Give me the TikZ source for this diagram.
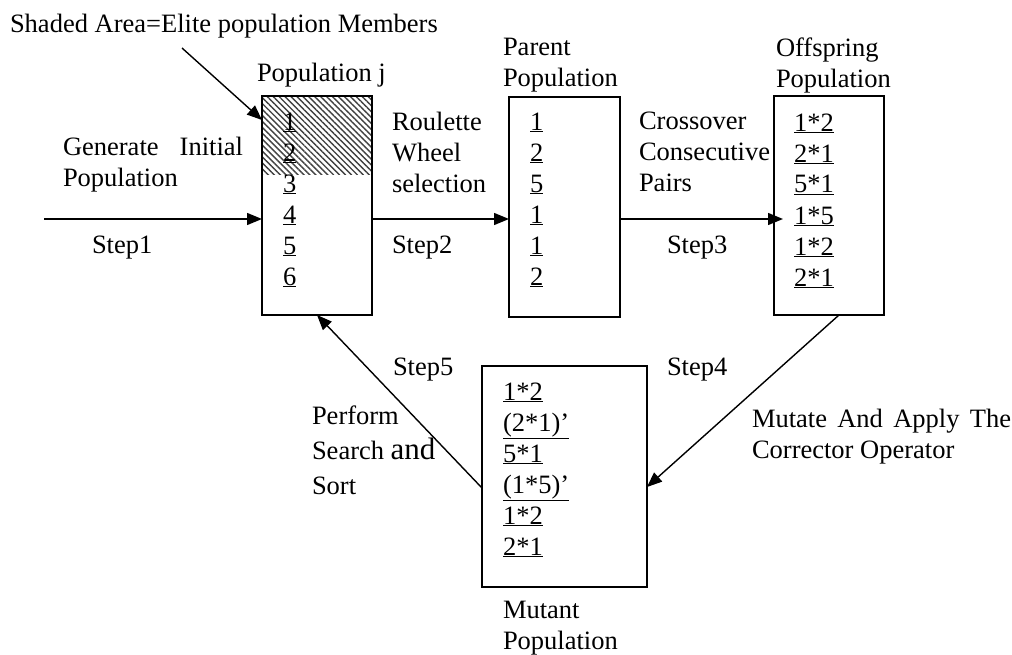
\documentclass[tikz,border=0pt]{standalone}
\usepackage{fontspec}
\setmainfont{Liberation Serif}
\usetikzlibrary{arrows.meta,patterns.meta,calc}
\begin{document}
\begin{tikzpicture}[x=1pt,y=-1pt,
  every node/.style={inner sep=0pt,outer sep=0pt,font=\fontsize{26.5}{31}\selectfont},
  lbl/.style={anchor=base west,align=left},
  popbox/.style={draw,line width=2pt,rectangle,inner sep=0pt},
  arr/.style={line width=1.4pt,-{Triangle[length=15pt,width=12pt]}}]
\useasboundingbox (0,0) rectangle (1012,655);
% shaded elite area
\fill[pattern={Lines[angle=-45,distance=4.2pt,line width=1.4pt]},pattern color=black!75]
  (262,96) rectangle (372,175);
% boxes
\node[popbox,minimum width=110pt,minimum height=219pt] (popj) at (317,205.5) {};
\node[popbox,minimum width=111pt,minimum height=220pt] (par) at (564.5,207) {};
\node[popbox,minimum width=110pt,minimum height=219pt] (off) at (829,205.5) {};
\node[popbox,minimum width=165pt,minimum height=221pt] (mut) at (564.5,476.5) {};
% box contents (anchored at the baseline of their last line)
\node[lbl] (popjl) at (283,285) {\underline{1}\\\underline{2}\\\underline{3}\\\underline{4}\\\underline{5}\\\underline{6}};
\node[lbl] (parl) at (530,285) {\underline{1}\\\underline{2}\\\underline{5}\\\underline{1}\\\underline{1}\\\underline{2}};
\node[lbl] (offl) at (794,286) {\underline{1*2}\\\underline{2*1}\\\underline{5*1}\\\underline{1*5}\\\underline{1*2}\\\underline{2*1}};
\node[lbl] (mutl) at (503,555) {\underline{1*2}\\\underline{(2*1)'}\\\underline{5*1}\\\underline{(1*5)'}\\\underline{1*2}\\\underline{2*1}};
% labels
\node[lbl] (shaded) at (10,33) {Shaded Area=Elite population Members};
\node[lbl] (popjt) at (257,82) {Population j};
\node[lbl] (part) at (503,87) {Parent\\Population};
\node[lbl] (offt) at (776,88) {Offspring\\Population};
\node[lbl] (mutt) at (503,649) {Mutant\\Population};
\node[lbl] (gen) at (63,187) {\hbox to 180pt{Generate\hfill Initial}\\Population};
\node[lbl] (s1) at (92,253) {Step1};
\node[lbl] (rw) at (392,193) {Roulette\\Wheel\\selection};
\node[lbl] (s2) at (392,253) {Step2};
\node[lbl] (cc) at (639,192) {Crossover\\Consecutive\\Pairs};
\node[lbl] (s3) at (667,254) {Step3};
\node[lbl] (s5) at (393,375) {Step5};
\node[lbl] (s4) at (667,375) {Step4};
\node[lbl] (pss) at (312,494) {Perform\\[4pt]Search {\fontsize{31}{31}\selectfont and}\\[4pt]Sort};
\node[lbl] (mac) at (752,458.5) {\hbox to 259pt{Mutate\hfill And\hfill Apply\hfill The}\\Corrector Operator};
% connectors
\coordinate (in0) at (44,219);
\coordinate (sa) at (182,48);
\draw[arr] (in0) -- (in0 -| popj.west);
\draw[arr] (sa) -- ($(popj.north west)+(0,24)$);
\draw[arr] (in0 -| popj.east) -- (in0 -| par.west);
\draw[arr,shorten >=-9pt] (in0 -| par.east) -- (in0 -| off.west);
\draw[arr] ($(off.south)+(10,0)$) -- ($(mut.east)+(0,10.5)$);
\draw[arr] ($(mut.west)+(0,11.5)$) -- (popj.south);
\end{tikzpicture}
\end{document}
